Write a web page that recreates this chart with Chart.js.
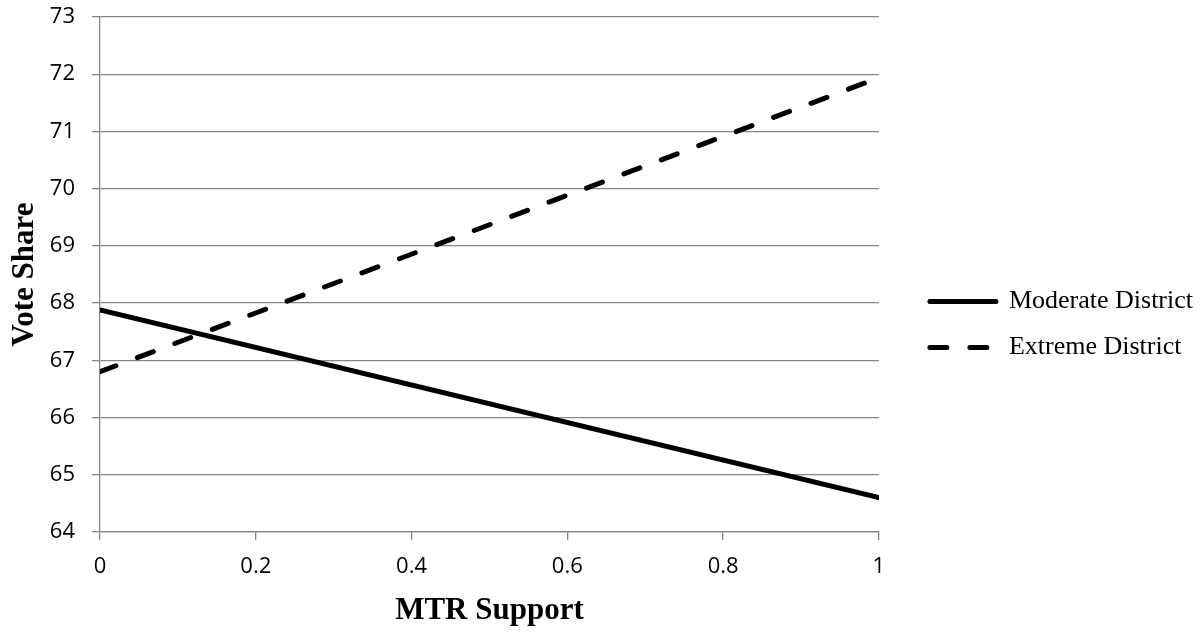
<!DOCTYPE html>
<html>
<head>
<meta charset="utf-8">
<script src="https://cdn.jsdelivr.net/npm/chart.js@4/dist/chart.umd.min.js"></script>
<style>
  html, body { margin: 0; padding: 0; background: #ffffff; }
  #wrap { width: 1203px; height: 632px; }
</style>
</head>
<body>
<div id="wrap"><canvas id="c" width="1203" height="632"></canvas></div>
<script>
// ---- data ----
const xValues = [0, 1];
const moderateDistrict = [67.88, 64.60];
const extremeDistrict = [66.80, 71.94];
const seriesNames = ['Moderate District', 'Extreme District'];
const xTickLabels = ['0', '0.2', '0.4', '0.6', '0.8', '1'];
const yMin = 64, yMax = 73;
const xTitle = 'MTR Support';
const yTitle = 'Vote Share';

const GRID = '#868686';
const LINE_W = 5;
const toPoints = (vals) => vals.map((v, i) => ({x: xValues[i], y: v}));

new Chart(document.getElementById('c'), {
  type: 'scatter',
  data: {
    datasets: [
      {
        label: seriesNames[0],
        data: toPoints(moderateDistrict),
        showLine: true,
        borderColor: '#000000',
        backgroundColor: '#000000',
        borderWidth: LINE_W,
        borderDash: [],
        borderCapStyle: 'round',
        pointRadius: 0,
        pointHoverRadius: 0,
        tension: 0
      },
      {
        label: seriesNames[1],
        data: toPoints(extremeDistrict),
        showLine: true,
        borderColor: '#000000',
        backgroundColor: '#000000',
        borderWidth: LINE_W,
        borderDash: [17, 23],
        borderCapStyle: 'round',
        pointRadius: 0,
        pointHoverRadius: 0,
        tension: 0
      }
    ]
  },
  options: {
    responsive: false,
    animation: false,
    events: [],
    layout: { padding: { top: 17, right: 0, bottom: 0, left: 0 } },
    plugins: {
      tooltip: { enabled: false },
      legend: {
        position: 'right',
        align: 'center',
        maxWidth: 400,
        labels: {
          usePointStyle: true,
          pointStyle: 'line',
          pointStyleWidth: 66,
          boxHeight: 26,
          padding: 20,
          color: '#000000',
          font: { family: 'Liberation Serif', size: 26 },
          generateLabels: (chart) => {
            const items = Chart.defaults.plugins.legend.labels.generateLabels(chart);
            items.forEach((it) => {
              const ds = chart.data.datasets[it.datasetIndex];
              it.lineDash = ds.borderDash;
              it.lineCap = ds.borderCapStyle;
              it.lineWidth = ds.borderWidth;
              it.strokeStyle = ds.borderColor;
              it.pointStyle = 'line';
            });
            return items;
          }
        }
      }
    },
    scales: {
      x: {
        type: 'linear',
        position: 'bottom',
        min: 0,
        max: 1,
        afterFit: (s) => { s.height = 100; },
        ticks: {
          stepSize: 0.2,
          padding: 14,
          color: '#000000',
          font: { family: 'Open Sans', size: 22 },
          callback: (v, i) => xTickLabels[i]
        },
        grid: { drawOnChartArea: false, drawTicks: true, tickLength: 8, color: GRID, lineWidth: 1.3 },
        border: { display: true, color: GRID, width: 1.3 },
        title: {
          display: true,
          text: xTitle,
          color: '#000000',
          font: { family: 'Liberation Serif', size: 31, weight: 'bold' },
          padding: { top: 0, bottom: 2 }
        }
      },
      y: {
        type: 'linear',
        position: 'left',
        min: yMin,
        max: yMax,
        afterFit: (s) => { s.width = 100; s.paddingTop = 0; s.paddingBottom = 0; },
        ticks: {
          stepSize: 1,
          padding: 17,
          color: '#000000',
          font: { family: 'Open Sans', size: 22 }
        },
        grid: { drawOnChartArea: true, drawTicks: true, tickLength: 8, color: GRID, lineWidth: 1.3 },
        border: { display: true, color: GRID, width: 1.3 },
        title: {
          display: true,
          text: yTitle,
          color: '#000000',
          font: { family: 'Liberation Serif', size: 31, weight: 'bold' },
          padding: { top: 6, bottom: 0 }
        }
      },
      spacer: {
        type: 'linear',
        position: 'right',
        display: true,
        min: 0,
        max: 1,
        afterFit: (s) => { s.width = 31; },
        ticks: { display: false },
        grid: { display: false },
        border: { display: false }
      }
    }
  }
});
</script>
</body>
</html>
